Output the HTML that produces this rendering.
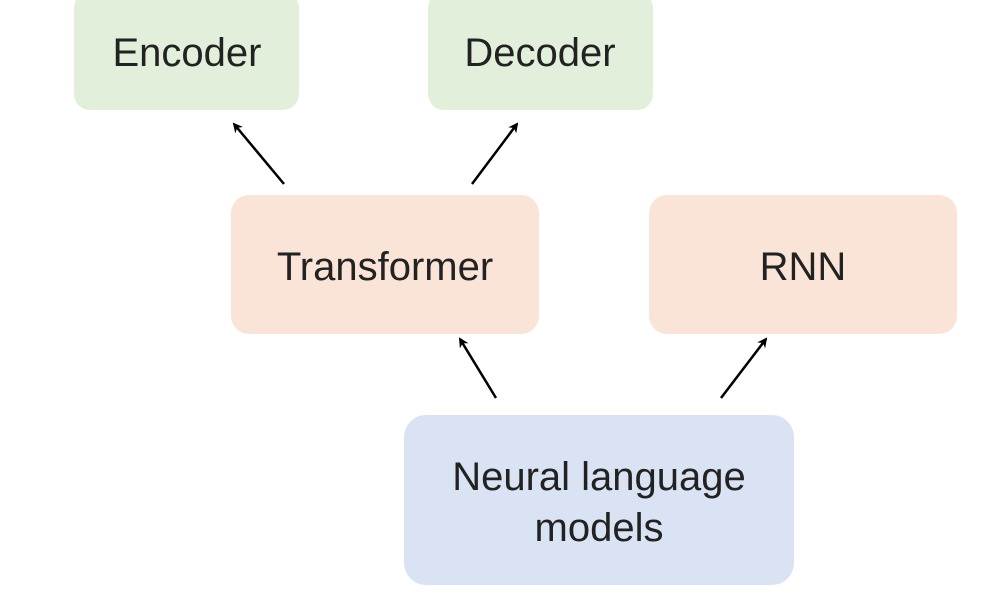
<!DOCTYPE html>
<html><head><meta charset="utf-8"><style>
html,body{margin:0;padding:0;background:#fff;width:990px;height:600px;overflow:hidden}
</style></head><body>
<svg width="990" height="600" xmlns="http://www.w3.org/2000/svg" font-family="Liberation Sans, Arial, sans-serif" font-size="40" fill="#222">
<defs><marker id="a" markerWidth="10" markerHeight="10" refX="8" refY="5" orient="auto" markerUnits="userSpaceOnUse" viewBox="0 0 10 10"><path d="M0,0 L10,5 L0,10 L3,5 z" fill="#000"/></marker></defs>
<rect x="74" y="-8" width="225" height="118" rx="16" fill="#e1efdb"/>
<rect x="428" y="-8" width="225" height="118" rx="16" fill="#e1efdb"/>
<rect x="231" y="195" width="308" height="139" rx="18" fill="#fae4d7"/>
<rect x="649" y="195" width="308" height="139" rx="18" fill="#fae4d7"/>
<rect x="404" y="415" width="390" height="170" rx="22" fill="#dae3f3"/>
<g text-anchor="middle" fill="#222">
<text x="187" y="66">Encoder</text>
<text x="540" y="66">Decoder</text>
<text x="385" y="280">Transformer</text>
<text x="803" y="280">RNN</text>
<text x="599" y="490">Neural language</text>
<text x="599" y="541">models</text>
</g>
<g stroke="#000" stroke-width="2.5" fill="none">
<line x1="284" y1="184" x2="234" y2="124" marker-end="url(#a)"/>
<line x1="472" y1="184" x2="517" y2="124" marker-end="url(#a)"/>
<line x1="496" y1="398" x2="460" y2="339" marker-end="url(#a)"/>
<line x1="721" y1="398" x2="766" y2="339" marker-end="url(#a)"/>
</g>
</svg>
</body></html>
